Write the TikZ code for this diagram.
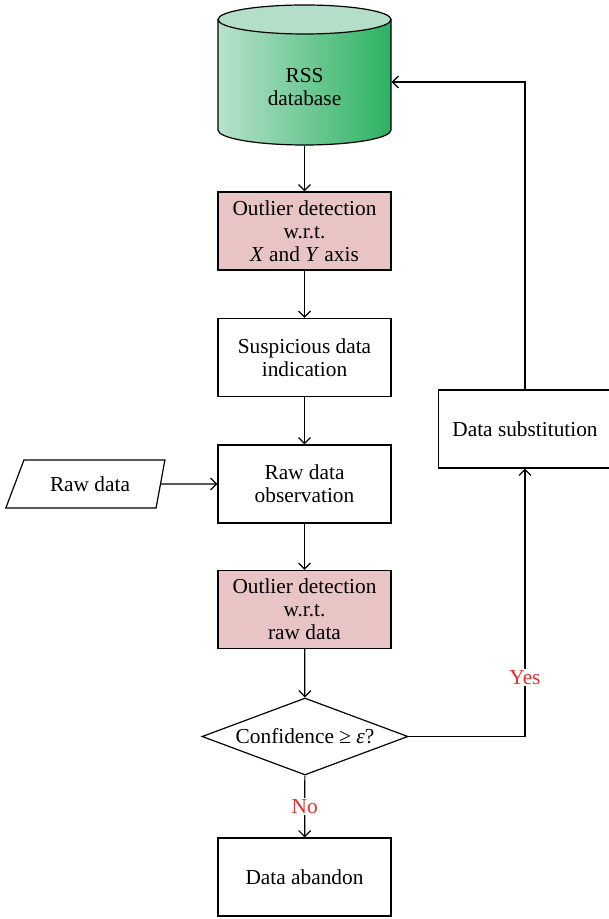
\documentclass[tikz,border=0pt]{standalone}
\usepackage{fontspec}
\setmainfont{Liberation Serif}
\usepackage{tikz}
\usepackage{xcolor}
\usetikzlibrary{arrows, arrows.meta, shapes.geometric, calc, positioning}

\definecolor{boxpink}{RGB}{232,196,196}
\definecolor{dblight}{RGB}{184,226,204}
\definecolor{dbdark}{RGB}{44,178,98}
\definecolor{dbtop}{RGB}{180,222,199}
\definecolor{answerred}{RGB}{232,44,44}

\tikzset{
    process/.style={draw, rectangle, minimum width=129.75pt, minimum height=58.5pt, align=center, inner sep=2pt},
    outlier/.style={process, fill=boxpink},
    decision/.style={draw, diamond, aspect=2.7, inner sep=0pt, minimum width=154.5pt, minimum height=57.75pt},
    inputdata/.style={draw, trapezium, trapezium left angle=63, trapezium right angle=104, trapezium stretches=true, minimum width=120pt, minimum height=36pt},
    answer/.style={fill=white, text=answerred, inner sep=1pt}
}

\begin{document}
\begin{tikzpicture}[x=0.75pt, y=-0.75pt, font=\fontsize{16}{17.25}\selectfont, line width=0.9pt, >={Straight Barb[length=4.5pt, width=9pt]}]
                    \useasboundingbox (0,0) rectangle (609,919);

                    % database cylinder
                    \shadedraw[left color=dblight, right color=dbdark] (218,19.5) -- (218,130) arc[start angle=180, end angle=0, x radius=86.5, y radius=15] -- (391,19.5) -- cycle;
                    \draw[fill=dbtop] (304.5,19.5) ellipse[x radius=86.5, y radius=14.5];
                    \node[minimum width=129.75pt, minimum height=105pt, inner sep=0pt] (db) at (304.5,75) {};
                    \node[align=center] (dbtext) at (304.5,87) {RSS\\database};

                    \node[outlier] (xyout) at (304.5,231) {Outlier detection\\w.r.t.\\\textit{X} and \textit{Y} axis};
                    \node[process] (susp) at (304.5,357.5) {Suspicious data\\indication};
                    \node[process] (obs) at (304.5,484) {Raw data\\observation};
                    \node[outlier] (rawout) at (304.5,609.5) {Outlier detection\\w.r.t.\\raw data};
                    \node[decision] (conf) at (305,736.5) {Confidence ≥ \textit{ε}?};
                    \node[process] (abandon) at (304.5,877) {Data abandon};
                    \node[process] (subst) at (525,429) {Data substitution};
                    \node[inputdata] (raw) at (90,484) {Raw data};

                    \draw[->] (db) -- (xyout);
                    \draw[->] (xyout) -- (susp);
                    \draw[->] (susp) -- (obs);
                    \draw[->] (obs) -- (rawout);
                    \draw[->] (rawout) -- (conf);
                    \draw[->] (raw) -- (obs);
                    \draw[->] (conf) -- node[answer] {No} (abandon);
                    \draw[->] (conf.east) -| node[answer, pos=0.61] {Yes} (subst.south);
                    \draw[->] (subst.north) |- ([yshift=-5.25pt]db.east);
                \end{tikzpicture}
\end{document}
